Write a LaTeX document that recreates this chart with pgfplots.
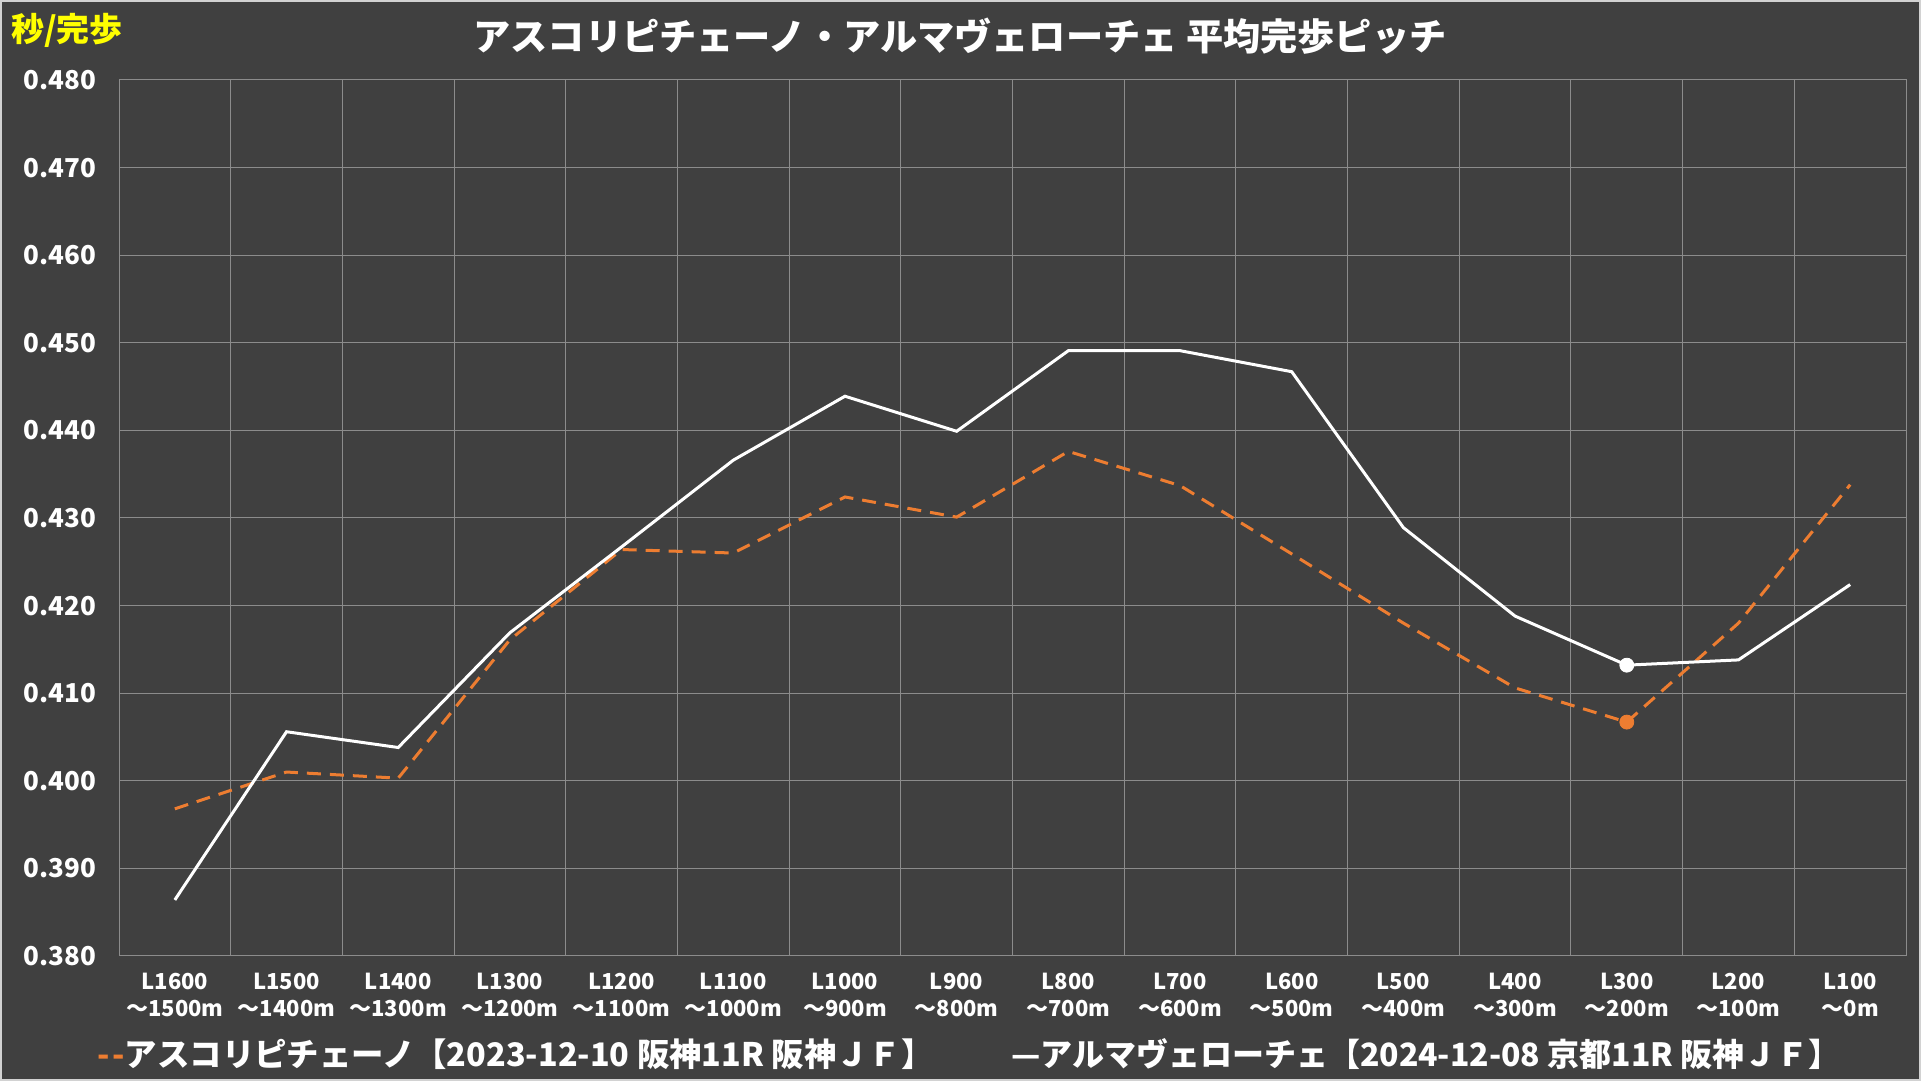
\documentclass[border=0pt]{standalone}
\usepackage{fontspec}
\setmainfont{Noto Sans CJK JP}
\usepackage{pgfplots}
\pgfplotsset{compat=1.18}
\definecolor{bg}{HTML}{404040}
\definecolor{gridc}{HTML}{8C8C8C}
\definecolor{orng}{HTML}{ED7D31}
\definecolor{ylw}{HTML}{FFFF00}

\begin{document}
\begin{tikzpicture}[x=1pt,y=1pt]
% background of the chart area
\fill[bg] (0,0) rectangle (960.5,540.5);
\draw[gray!35, line width=1pt] (0.5,0.5) rectangle (960,540);
\node[font=\bfseries\fontsize{18.6}{20}\selectfont, white] at (480,522.5)
  {アスコリピチェーノ・アルマヴェローチェ 平均完歩ピッチ};
\node[font=\bfseries\fontsize{16.5}{18}\selectfont, ylw] at (33.5,525.5) {秒/完歩};
\begin{axis}[
  at={(59.5pt,62.5pt)}, anchor=south west,
  scale only axis, width=893.5pt, height=438pt,
  xmin=0.5, xmax=16.5, ymin=0.38, ymax=0.48,
  xtick={1,2,3,4,5,6,7,8,9,10,11,12,13,14,15,16},
  xticklabels={{L1600\\～1500m},{L1500\\～1400m},{L1400\\～1300m},{L1300\\～1200m},
    {L1200\\～1100m},{L1100\\～1000m},{L1000\\～900m},{L900\\～800m},
    {L800\\～700m},{L700\\～600m},{L600\\～500m},{L500\\～400m},
    {L400\\～300m},{L300\\～200m},{L200\\～100m},{L100\\～0m}},
  minor xtick={0.5,1.5,2.5,3.5,4.5,5.5,6.5,7.5,8.5,9.5,10.5,11.5,12.5,13.5,14.5,15.5,16.5},
  ytick={0.38,0.39,0.40,0.41,0.42,0.43,0.44,0.45,0.46,0.47,0.48},
  scaled y ticks=false,
  xminorgrids, ymajorgrids,
  major tick length=0pt, minor tick length=0pt,
  axis line style={gridc, line width=0.5pt},
  grid style={gridc, line width=0.5pt},
  minor grid style={gridc, line width=0.5pt},
  xticklabel style={align=center, text=white, yshift=-5pt,
    font=\bfseries\fontsize{11}{13.5}\selectfont},
  yticklabel style={text=white, xshift=-8pt,
    font=\bfseries\fontsize{13}{15}\selectfont,
    /pgf/number format/.cd, fixed, fixed zerofill, precision=3, assume math mode=true},
]
% アスコリピチェーノ 2023
\addplot[orng, line width=1.5pt, dash pattern=on 7pt off 4.5pt]
  coordinates {(1,0.3968) (2,0.4010) (3,0.4003) (4,0.4161) (5,0.4264) (6,0.4260)
    (7,0.4324) (8,0.4301) (9,0.4376) (10,0.4337) (11,0.4259) (12,0.4180)
    (13,0.4106) (14,0.4067) (15,0.4180) (16,0.4338)};
% アルマヴェローチェ 2024
\addplot[white, line width=1.5pt]
  coordinates {(1,0.3864) (2,0.4056) (3,0.4038) (4,0.4169) (5,0.4267) (6,0.4366)
    (7,0.4439) (8,0.4399) (9,0.4491) (10,0.4491) (11,0.4467) (12,0.4289)
    (13,0.4188) (14,0.4132) (15,0.4138) (16,0.4224)};
% markers at L300
\addplot[only marks, mark=*, mark size=3.5pt, orng] coordinates {(14,0.4067)};
\addplot[only marks, mark=*, mark size=3.5pt, white] coordinates {(14,0.4132)};
\end{axis}
% legend line
\node[anchor=west, font=\bfseries\fontsize{16.2}{18}\selectfont, white] at (45,13.5)
  {\textcolor{orng}{-\kern1.5pt-}アスコリピチェーノ【2023-12-10 阪神11R 阪神ＪＦ】};
\node[anchor=west, font=\bfseries\fontsize{16}{18}\selectfont, white] at (502,13.5)
  {—アルマヴェローチェ【2024-12-08 京都11R 阪神ＪＦ】};
\end{tikzpicture}
\end{document}
